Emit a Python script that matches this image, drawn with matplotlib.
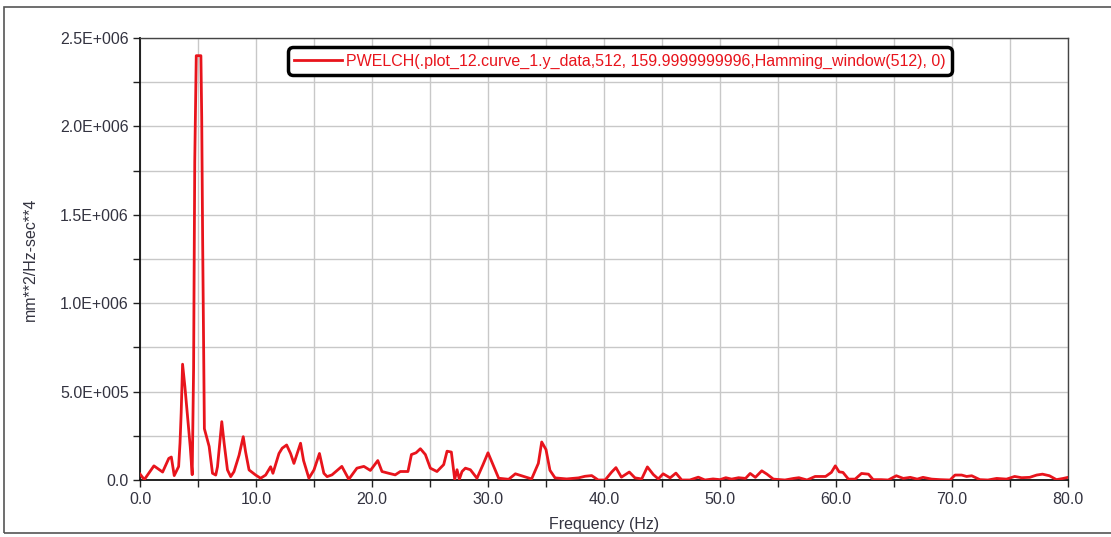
#PSD plot (pwelch output)
import matplotlib.pyplot as plt
import numpy as np
from matplotlib.ticker import MultipleLocator, FuncFormatter
from matplotlib.patches import Rectangle

plt.rcParams['font.family'] = ['Liberation Sans', 'DejaVu Sans']

legend_label = "PWELCH(.plot_12.curve_1.y_data,512, 159.9999999996,Hamming_window(512), 0)"

freq_hz = [0.0, 0.37, 1.2, 1.95, 2.48, 2.7, 2.95, 3.33, 3.45, 3.55, 3.67, 3.87, 4.1, 4.33, 4.5,
           4.62, 4.72, 4.85, 5.25, 5.32, 5.4, 5.5, 5.55, 5.96, 6.25, 6.53, 6.68, 7.05, 7.25,
           7.54, 7.82, 8.1, 8.54, 8.9, 9.1, 9.4, 9.97, 10.4, 10.83, 11.26, 11.46, 11.98, 12.26,
           12.64, 12.98, 13.27, 13.55, 13.84, 14.1, 14.56, 15.0, 15.47, 15.85, 16.13, 16.55,
           17.4, 18.0, 18.7, 19.3, 19.86, 20.5, 20.86, 21.44, 22.0, 22.44, 23.1, 23.4, 23.8,
           24.17, 24.6, 25.03, 25.6, 26.18, 26.47, 26.84, 27.13, 27.33, 27.53, 27.76, 28.05,
           28.48, 29.05, 29.57, 30.0, 30.49, 30.92, 31.78, 32.36, 32.93, 33.45, 33.76, 34.34,
           34.63, 35.0, 35.34, 35.78, 36.78, 37.8, 38.36, 38.94, 39.5, 40.1, 40.66, 41.03,
           41.5, 42.18, 42.67, 43.25, 43.74, 44.25, 44.68, 45.1, 45.7, 46.2, 46.7, 47.4,
           48.13, 48.7, 49.4, 50.0, 50.5, 51.0, 51.6, 52.2, 52.6, 53.05, 53.6, 54.05, 54.6,
           55.6, 56.35, 56.8, 57.5, 58.2, 59.1, 59.6, 59.94, 60.27, 60.6, 61.07, 61.65, 62.2,
           62.8, 63.2, 63.9, 64.5, 65.2, 65.8, 66.4, 67.0, 67.5, 68.25, 68.97, 69.83, 70.26,
           70.83, 71.26, 71.7, 72.4, 73.1, 73.85, 74.7, 75.4, 76.0, 76.7, 77.3, 77.8, 78.4,
           79.0, 79.6, 80.0]
# psd in units of 1e5 mm**2/Hz-sec**4
psd_e5 = [0.34, 0.02, 0.8, 0.45, 1.22, 1.3, 0.25, 0.76, 2.1, 3.8, 6.55, 5.28, 3.58, 1.89, 0.3,
          6.3, 18.0, 24.0, 24.0, 20.5, 13.6, 6.6, 2.9, 1.9, 0.38, 0.28, 0.75, 3.3, 2.1,
          0.57, 0.19, 0.47, 1.4, 2.45, 1.6, 0.57, 0.28, 0.1, 0.28, 0.75, 0.38, 1.5, 1.8,
          1.98, 1.5, 0.94, 1.5, 2.08, 1.1, 0.1, 0.57, 1.5, 0.38, 0.19, 0.29,
          0.77, 0.04, 0.67, 0.77, 0.54, 1.1, 0.48, 0.38, 0.29, 0.48, 0.48, 1.44, 1.54,
          1.77, 1.44, 0.67, 0.48, 0.87, 1.63, 1.58, 0.04, 0.58, 0.04, 0.48, 0.67,
          0.58, 0.1, 0.87, 1.54, 0.77, 0.1, 0.04, 0.35, 0.23, 0.12, 0.06, 0.94,
          2.15, 1.72, 0.55, 0.12, 0.06, 0.12, 0.21, 0.25, 0.0, 0.0, 0.45, 0.7,
          0.16, 0.45, 0.12, 0.06, 0.74, 0.31, 0.06, 0.35, 0.12, 0.39, 0.0, 0.0,
          0.16, 0.0, 0.06, 0.02, 0.13, 0.05, 0.13, 0.09, 0.37, 0.15, 0.52, 0.33, 0.05,
          0.0, 0.09, 0.13, 0.0, 0.2, 0.2, 0.43, 0.8, 0.46, 0.43, 0.05, 0.05, 0.37,
          0.33, 0.02, 0.02, 0.0, 0.24, 0.09, 0.15, 0.05, 0.15, 0.05, 0.02, 0.0, 0.28,
          0.28, 0.2, 0.24, 0.02, 0.0, 0.09, 0.05, 0.2, 0.13, 0.15, 0.28, 0.33, 0.24,
          0.02, 0.09, 0.15]

x = np.array(freq_hz)
y = np.array(psd_e5) * 1e5

fig = plt.figure(figsize=(11.11, 5.37), dpi=100)
fig.patch.set_facecolor('white')
ax = fig.add_axes([140/1111, 1-480/537, 928/1111, 442/537])

ax.plot(x, y, color='#e8141c', lw=2, label=legend_label, zorder=3)

ax.set_xlim(0, 80)
ax.set_ylim(0, 2.5e6)
ax.xaxis.set_major_locator(MultipleLocator(10))
ax.xaxis.set_minor_locator(MultipleLocator(5))
ax.yaxis.set_major_locator(MultipleLocator(5e5))
ax.yaxis.set_minor_locator(MultipleLocator(2.5e5))

def yfmt(v, pos):
    if v == 0:
        return "0.0"
    e = int(np.floor(np.log10(abs(v))))
    return "%.1fE+%03d" % (v/10**e, e)

ax.yaxis.set_major_formatter(FuncFormatter(yfmt))
ax.xaxis.set_major_formatter(FuncFormatter(lambda v, p: "%.1f" % v))

ax.grid(True, which='both', color='#c8c8c8', lw=1, zorder=0)
ax.tick_params(which='both', direction='out', length=5, width=1, color='#222222',
               labelsize=11.5, labelcolor='#333340')
ax.tick_params(axis='y', pad=3)
for s in ['top', 'right']:
    ax.spines[s].set_color('#444444')
    ax.spines[s].set_linewidth(1)
for s in ['left', 'bottom']:
    ax.spines[s].set_color('#111111')
    ax.spines[s].set_linewidth(1.3)

ax.set_xlabel("Frequency (Hz)", fontsize=11.5, color='#333340', labelpad=7)
ax.set_ylabel("mm**2/Hz-sec**4", fontsize=11.5, color='#333340', labelpad=16)

leg = ax.legend(loc='upper center', bbox_to_anchor=(0.517, 0.99), fontsize=11.5,
                handlelength=3.0, handletextpad=0.2, borderpad=0.2,
                fancybox=True, framealpha=1, labelcolor='#e8141c')
leg.get_frame().set_edgecolor('black')
leg.get_frame().set_linewidth(2.5)
leg.get_frame().set_boxstyle('round,pad=0.2,rounding_size=0.3')

# outer frame of the screenshot
fig.add_artist(Rectangle((4/1111, 4/537), 1.2, 1-11/537, transform=fig.transFigure,
                         fill=False, edgecolor='#555555', lw=1.2))

fig.savefig("out.png", dpi=100, facecolor='white')
